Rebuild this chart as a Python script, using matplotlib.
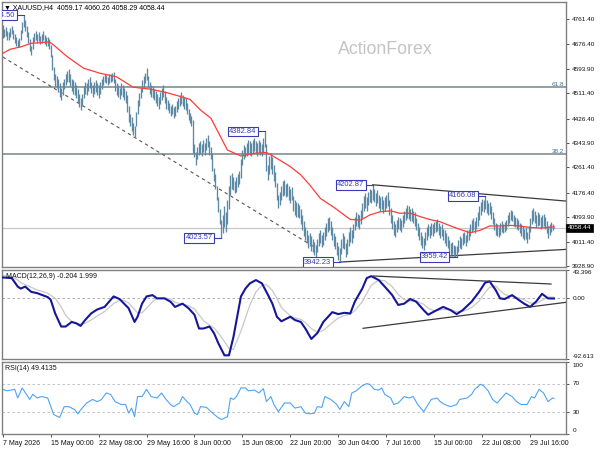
import matplotlib
matplotlib.use('Agg')
import matplotlib.pyplot as plt
import matplotlib.transforms as mtrans

plt.rcParams['font.family'] = ['Liberation Sans', 'DejaVu Sans']

# ---------------- data ----------------
bar_high = [
4742,4728,4735,4722,4718,4730,4738,4725,4712,4700,
4690,4698,4725,4752,4774.5,4760,4740,4718,4695,4672,
4700,4715,4722,4710,4718,4705,4712,4720,4708,4700,
4702,4695,4675,4640,4600,4575,4570,4560,4545,4530,
4548,4560,4575,4585,4592,4575,4560,4555,4548,4540,
4525,4510,4495,4510,4535,4550,4545,4560,4565,4550,
4540,4548,4555,4545,4538,4550,4560,4570,4575,4572,
4568,4575,4578,4580,4583,4560,4545,4540,4530,4545,
4540,4528,4520,4505,4470,4440,4430,4410,4400,4450,
4490,4512,4530,4555,4570,4580,4596,4570,4550,4540,
4535,4525,4518,4510,4500,4515,4530,4539,4520,4500,
4490,4480,4470,4475,4465,4470,4485,4495,4505,4516,
4505,4500,4495,4480,4460,4445,4435,4420,4340,4315,
4330,4345,4350,4340,4355,4345,4360,4371,4350,4330,
4310,4260,4240,4200,4160,4120,4085,4100,4130,4110,
4150,4200,4235,4242,4230,4215,4230,4240,4250,4290,
4320,4337,4330,4345,4355,4350,4345,4355,4360,4352,
4345,4355,4348,4340,4360,4382.84,4340,4270,4300,4310,
4295,4270,4245,4210,4170,4180,4200,4215,4219,4205,
4210,4200,4190,4195,4165,4150,4145,4140,4135,4120,
4100,4080,4060,4050,4035,4040,4030,4020,4010,4000,
4020,4040,4050,4035,4045,4060,4075,4090,4094,4080,
4060,4040,4030,4010,3995,3990,4020,4040,4030,4005,
4020,4045,4060,4050,4070,4095,4110,4105,4100,4118,
4140,4165,4175,4160,4180,4190,4185,4202.87,4190,4175,
4185,4170,4160,4165,4150,4160,4170,4178,4150,4125,
4100,4080,4070,4085,4094,4090,4085,4100,4115,4125,
4135,4130,4120,4125,4115,4110,4090,4075,4060,4045,
4030,4025,4045,4060,4070,4065,4075,4070,4078,4080,
4088,4075,4065,4070,4055,4050,4040,4030,4015,4005,
4010,4000,3995,3998,4015,4030,4025,4040,4045,4035,
4050,4055,4070,4085,4090,4080,4095,4110,4130,4145,
4155,4150,4166.08,4150,4140,4145,4130,4110,4090,4075,
4070,4060,4075,4080,4070,4078,4085,4100,4110,4118,
4115,4100,4095,4090,4085,4075,4070,4065,4055,4060,
4045,4065,4090,4118,4124,4115,4100,4110,4105,4095,
4100,4105,4095,4080,4065,4070,4078,4072,4060.26]

bar_low = [
4698,4700,4705,4692,4690,4702,4712,4695,4680,4672,
4666,4668,4690,4715,4735,4722,4700,4680,4655,4640,
4660,4685,4692,4680,4688,4676,4682,4690,4678,4670,
4672,4660,4635,4590,4556,4535,4530,4515,4500,4489,
4505,4525,4540,4548,4550,4535,4520,4510,4505,4495,
4480,4465,4455,4470,4495,4510,4505,4520,4528,4512,
4500,4510,4515,4505,4495,4508,4525,4540,4548,4545,
4540,4545,4550,4552,4545,4520,4505,4500,4492,4505,
4500,4490,4480,4450,4415,4400,4385,4370,4364,4400,
4440,4470,4495,4515,4530,4545,4555,4530,4510,4500,
4495,4488,4480,4470,4460,4475,4490,4498,4478,4460,
4455,4445,4435,4440,4428,4435,4450,4460,4470,4475,
4468,4460,4455,4440,4420,4411,4400,4310,4295,4270,
4290,4305,4310,4300,4315,4305,4320,4330,4305,4290,
4250,4215,4190,4150,4110,4070,4023.57,4040,4060,4045,
4070,4120,4170,4190,4185,4175,4180,4195,4205,4225,
4270,4290,4295,4300,4310,4305,4300,4310,4318,4310,
4300,4312,4305,4300,4315,4330,4250,4219,4240,4255,
4240,4215,4195,4150,4124,4135,4150,4165,4170,4160,
4165,4150,4141,4150,4115,4100,4094,4095,4090,4070,
4050,4030,4016,4005,3990,3995,3980,3975,3965,3959,
3975,3995,4005,3993,4000,4015,4030,4045,4050,4035,
4015,3995,3985,3965,3950,3942.23,3970,3990,3985,3959,
3970,3995,4010,4005,4025,4050,4065,4060,4055,4070,
4090,4115,4125,4115,4135,4145,4140,4150,4145,4130,
4140,4125,4115,4120,4108,4115,4125,4130,4100,4075,
4055,4035,4027,4045,4055,4050,4045,4060,4075,4085,
4090,4088,4080,4082,4075,4065,4050,4030,4015,4000,
3990,3983,4000,4015,4030,4025,4035,4030,4040,4045,
4048,4035,4025,4030,4015,4005,3998,3990,3975,3965,
3968,3962,3960,3959.42,3975,3990,3985,4000,4005,3998,
4010,4015,4030,4045,4050,4040,4055,4065,4085,4100,
4115,4110,4120,4108,4100,4105,4088,4070,4050,4035,
4030,4027,4035,4045,4040,4045,4050,4065,4075,4085,
4080,4065,4060,4055,4050,4040,4030,4025,4015,4020,
4006,4020,4045,4070,4080,4075,4060,4065,4068,4055,
4060,4065,4055,4040,4023,4035,4045,4050,4058.29]

ma_bars = [0,5,12,19,25,31,34,43,54,65,76,87,99,110,119,125,132,139,150,159,
           168,176,183,192,199,205,212,221,232,239,245,252,259,265,272,279,285,292,299,305,
           312,319,325,332,339,345,352,359,368]
ma_vals = [4646,4660,4668,4680,4682,4685,4674,4635,4596,4579,4567,4532,4525,4513,4500,4491,4455,4427,4320,4300,
           4309,4312,4292,4264,4236,4202,4157,4127,4086,4084,4101,4112,4115,4107,4107,4095,4086,4078,4064,4053,
           4041,4050,4064,4064,4066,4064,4059,4057,4061]

macd_bars = [0,6,10,12,15,19,23,30,32,35,39,42,46,49,52,55,59,63,68,71,74,78,81,84,88,90,93,96,100,103,
             108,112,115,120,124,128,131,134,138,141,144,148,151,154,159,162,165,169,173,176,180,183,186,192,195,
             199,202,206,210,214,220,224,228,232,235,240,243,246,251,255,260,264,268,272,276,281,284,288,294,299,
             303,307,313,318,322,325,329,332,335,340,343,348,352,356,360,364,368]
macd_main = [32,31,18,15,18,10,8,2,-2,-23,-43,-43,-36,-38,-42,-33,-23,-17,-13,-5,3,-1,-8,-15,-36,-28,-8,3,5,0,
             0,-5,-13,-8,-15,-25,-46,-46,-43,-53,-69,-87,-87,-59,3,15,23,28,23,10,-8,-28,-35,-28,-33,
             -36,-46,-62,-53,-36,-21,-24,-22,-23,-5,15,31,34,28,18,5,-10,-8,-1,-5,-18,-25,-20,-13,-18,
             -24,-18,-5,10,24,26,13,0,-1,5,0,-8,-13,-5,7,0,-0.204]
macd_signal = [35,33,28,24,21,17,13,8,5,0,-13,-26,-35,-38,-39,-38,-33,-27,-20,-14,-8,-3,-3,-7,-17,-22,-22,-15,-5,0,
               1,-1,-6,-9,-11,-16,-25,-34,-41,-45,-53,-66,-76,-78,-50,-30,-10,10,20,21,12,0,-14,-27,-30,
               -32,-37,-46,-52,-49,-37,-30,-26,-24,-19,-5,8,20,28,27,18,6,-2,-4,-4,-9,-15,-19,-17,-17,
               -20,-20,-14,-4,9,17,19,12,6,3,2,-2,-7,-8,-3,2,1.999]

rsi_bars = [0,3,8,10,13,18,20,23,26,30,34,38,41,44,48,50,53,56,60,63,66,69,72,75,79,82,84,86,88,90,
            93,96,99,103,106,109,112,114,118,120,123,125,128,130,132,136,139,143,146,150,
            152,154,156,159,162,164,168,171,174,176,179,181,184,188,192,195,199,202,205,208,
            210,213,215,219,223,225,228,231,233,236,240,243,245,248,251,253,255,259,261,264,
            268,271,274,277,281,284,286,290,292,295,299,303,305,310,313,315,319,321,324,327,
            330,333,336,340,343,346,350,353,355,358,361,364,367,368]
rsi_vals = [62,60,62,50,64,48,55,50,52,50,27,23,38,38,34,28,36,43,48,45,48,57,55,45,41,41,29,36,24,52,
            52,62,52,50,57,48,41,38,43,52,45,41,29,27,38,37,31,24,20,24,
            50,48,52,64,64,60,61,57,63,45,52,41,31,43,43,36,38,29,28,29,
            38,37,52,48,41,34,45,38,57,60,67,70,69,62,61,64,55,50,41,43,
            52,50,52,41,31,41,48,50,45,41,38,41,48,50,55,62,69,67,60,48,
            43,50,57,52,45,41,41,52,50,62,57,45,50,49.4135]

fib_levels = [4532, 4307]
fib_labels = ['61.8', '38.2']
last_price = 4058.44

label_bars = [14, 175, 146, 225, 247, 303, 322]
label_prices = [4774.50, 4382.84, 4023.57, 3942.23, 4202.87, 3959.42, 4166.08]

tri_upper = ([247, 376], [4202.87, 4148])
tri_lower = ([225, 376], [3942.23, 3985])
dash_trend = ([0, 207], [4634, 3996])
macd_upper = ([247.5, 366], [34.2, 22.0])
macd_lower = ([240.5, 376], [-45.7, -6.0])

price_ticks = [4761.40, 4676.40, 4593.90, 4511.40, 4426.40, 4343.90, 4261.40,
               4176.40, 4093.90, 4011.40, 3928.90]
macd_ticks = [43.396, 0.0, -92.613]
macd_tick_labels = ['43.396', '0.00', '-92.613']
rsi_ticks = [100, 70, 30, 0]
time_tick_bars = [0, 32, 64, 96, 128, 160, 192, 224, 256, 288, 320, 352]
time_tick_labels = ['7 May 2026', '15 May 00:00', '22 May 08:00', '29 May 16:00',
                    '8 Jun 00:00', '15 Jun 08:00', '22 Jun 20:00', '30 Jun 04:00',
                    '7 Jul 16:00', '15 Jul 00:00', '22 Jul 08:00', '29 Jul 16:00']

title_text = '\u25BC XAUUSD,H4  4059.17 4060.26 4058.29 4058.44'
macd_title = 'MACD(12,26,9) -0.204 1.999'
rsi_title = 'RSI(14) 49.4135'

# ---------------- figure ----------------
W, H = 600, 450
fig = plt.figure(figsize=(6, 4.5), dpi=100)
fig.patch.set_facecolor('white')

def rect(x0, y0, x1, y1):
    return [x0 / W, 1 - y1 / H, (x1 - x0) / W, (y1 - y0) / H]

ax = fig.add_axes(rect(2, 2, 566, 267))
axm = fig.add_axes(rect(2, 270, 566, 359))
axr = fig.add_axes(rect(2, 362, 566, 434))

XL = (-0.5, 376)
border = '#808080'
for a in (ax, axm, axr):
    a.set_xlim(*XL)
    for s in a.spines.values():
        s.set_color(border)
        s.set_linewidth(1.0)
    a.yaxis.tick_right()
    a.tick_params(axis='y', which='both', right=True, left=False, labelleft=False,
                  labelright=True, direction='out', length=2.5, width=0.6,
                  color='#333333', pad=1.5, labelsize=4.6, labelcolor='#111111')
    a.set_xticks([])

bar_color = '#5d89a4'
n = min(len(bar_high), len(bar_low))
bars = list(range(n))

# ---- main price panel ----
ax.set_ylim(3925.6, 4819.3)
ax.set_yticks(price_ticks)
ax.set_yticklabels(['%.2f' % v for v in price_ticks])

for lv, lb in zip(fib_levels, fib_labels):
    ax.axhline(lv, color='#74868a', lw=1.1, zorder=1)
    ax.text(0.997, lv, lb, transform=mtrans.blended_transform_factory(ax.transAxes, ax.transData),
            ha='right', va='bottom', fontsize=4.6, color='#4a6e8c')
ax.axhline(last_price, color='#c8c8c8', lw=0.9, zorder=1)

ax.text(0.68, 0.82, 'ActionForex', transform=ax.transAxes, ha='center', va='center',
        fontsize=12.8, color='#c4c4c4', family=['Liberation Sans', 'DejaVu Sans'], zorder=0)

ax.plot(dash_trend[0], dash_trend[1], color='#555555', lw=0.8, ls=(0, (3, 3)), zorder=2)
ax.plot(tri_upper[0], tri_upper[1], color='#3a3a3a', lw=0.9, zorder=2)
ax.plot(tri_lower[0], tri_lower[1], color='#3a3a3a', lw=0.9, zorder=2)

ax.vlines(bars, bar_low[:n], bar_high[:n], color=bar_color, lw=0.95, zorder=3)
ax.plot(ma_bars, ma_vals, color='#ff3b3b', lw=0.9, zorder=4)

lab_col = '#3a3ab8'
shift = mtrans.ScaledTranslation(-8.5 / 100, 0, fig.dpi_scale_trans)
for b, p in zip(label_bars, label_prices):
    ax.plot([b - 5, b], [p, p], color=lab_col, lw=0.8, zorder=5)
    ax.text(b, p, '%.2f' % p, transform=ax.transData + shift, ha='right', va='center',
            fontsize=5.4, color=lab_col, clip_on=True, zorder=6,
            bbox=dict(boxstyle='square,pad=0.18', fc='white', ec=lab_col, lw=0.8))

ax.text(1.003, last_price, '%.2f' % last_price,
        transform=mtrans.blended_transform_factory(ax.transAxes, ax.transData),
        ha='left', va='center', fontsize=4.6, color='white', clip_on=False, zorder=7,
        bbox=dict(boxstyle='square,pad=0.25', fc='black', ec='black', lw=0.5))

fig.text(4 / W, 1 - 7.5 / H, title_text, ha='left', va='center', fontsize=5.0, color='#000000')

# ---- MACD panel ----
axm.set_ylim(-92.613, 43.396)
axm.set_yticks(macd_ticks)
axm.set_yticklabels(['', '', ''])
axm.axhline(0, color='#a0a0a0', lw=0.6, ls=(0, (3, 3)), zorder=1)
axm.plot(macd_bars, macd_signal, color='#c8c8c8', lw=0.9, zorder=2)
axm.plot(macd_bars, macd_main, color='#16169a', lw=1.5, zorder=3)
axm.plot(macd_upper[0], macd_upper[1], color='#3a3a3a', lw=0.9, zorder=4)
axm.plot(macd_lower[0], macd_lower[1], color='#3a3a3a', lw=0.9, zorder=4)
bt = mtrans.blended_transform_factory(axm.transAxes, axm.transData)
vas = ['top', 'center', 'bottom']
for v, lbl, va in zip(macd_ticks, macd_tick_labels, vas):
    axm.text(1.012, v, lbl, transform=bt, ha='left', va=va, fontsize=4.6,
             color='#111111', clip_on=False)
fig.text(6 / W, 1 - 277 / H, macd_title, ha='left', va='center', fontsize=5.0, color='#111111')

# ---- RSI panel ----
axr.set_ylim(0, 100)
axr.set_yticks(rsi_ticks)
axr.set_yticklabels(['', '', '', ''])
for lv in (70, 30):
    axr.axhline(lv, color='#b8b8b8', lw=0.6, ls=(0, (3, 3)), zorder=1)
axr.plot(rsi_bars, rsi_vals, color='#4ea3f7', lw=0.8, zorder=2)
bt = mtrans.blended_transform_factory(axr.transAxes, axr.transData)
rvas = ['top', 'center', 'center', 'bottom']
for v, va in zip(rsi_ticks, rvas):
    axr.text(1.012, v + (-2 if v == 100 else (2 if v == 0 else 0)), str(v), transform=bt,
             ha='left', va=va, fontsize=4.6, color='#111111', clip_on=False)
fig.text(5 / W, 1 - 369 / H, rsi_title, ha='left', va='center', fontsize=5.0, color='#111111')

axr.set_xticks(time_tick_bars)
axr.set_xticklabels(time_tick_labels, ha='left')
axr.tick_params(axis='x', direction='out', length=2.5, width=0.6, color='#333333',
                pad=1.5, labelsize=5.0, labelcolor='#111111')

fig.savefig('out.png', dpi=100, facecolor='white')
